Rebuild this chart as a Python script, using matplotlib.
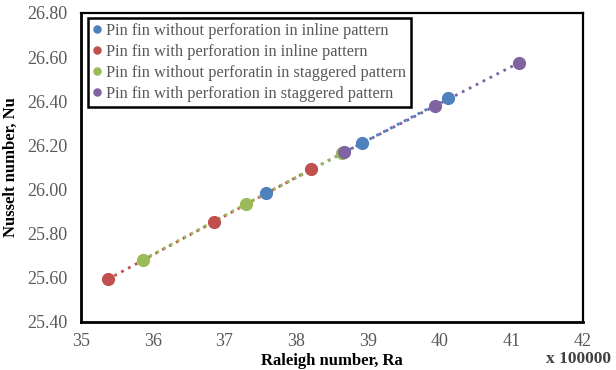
"""Nusselt vs Raleigh number for pin fin arrangements."""

import matplotlib.pyplot as plt

plt.rcParams["font.family"] = ["Liberation Serif", "DejaVu Serif"]

LABELS = [
    "Pin fin without perforation in inline pattern",
    "Pin fin with perforation in inline pattern",
    "Pin fin without perforatin in staggered pattern",
    "Pin fin with perforation in staggered pattern",
]
COLORS = ["#4F81BD", "#C0504D", "#9BBB59", "#8064A2"]

# Raleigh number (x 100000) and Nusselt number per series
ra_inline = [37.58, 38.92, 40.12]
nu_inline = [25.983, 26.211, 26.414]
ra_inline_perf = [35.37, 36.86, 38.21]
nu_inline_perf = [25.593, 25.855, 26.092]
ra_stag = [35.86, 37.30, 38.64]
nu_stag = [25.681, 25.935, 26.165]
ra_stag_perf = [38.67, 39.94, 41.11]
nu_stag_perf = [26.169, 26.379, 26.575]

SERIES = [
    (ra_inline, nu_inline),
    (ra_inline_perf, nu_inline_perf),
    (ra_stag, nu_stag),
    (ra_stag_perf, nu_stag_perf),
]

X_TICKS = [35, 36, 37, 38, 39, 40, 41, 42]
Y_TICKS = [25.40, 25.60, 25.80, 26.00, 26.20, 26.40, 26.60, 26.80]

fig = plt.figure(figsize=(6.16, 3.70), dpi=100)
ax = fig.add_axes([81 / 616, 1 - 322 / 370, 502 / 616, 309 / 370])

# dotted trend lines first, markers on top
for (x, y), c in zip(SERIES, COLORS):
    ax.plot(x, y, linestyle=(0, (1, 1.8)), color=c, linewidth=2.0, zorder=2)
for (x, y), c, lab in zip(SERIES, COLORS, LABELS):
    ax.plot(x, y, linestyle="none", marker="o", markersize=8.5, color=c,
            label=lab, zorder=3)

ax.set_xlim(35, 42)
ax.set_ylim(25.40, 26.80)
ax.set_xticks(X_TICKS)
ax.set_yticks(Y_TICKS)
ax.set_yticklabels([f"{v:.2f}" for v in Y_TICKS])
ax.tick_params(length=0, labelsize=13, colors="#595959")
ax.tick_params(axis="y", pad=10)
ax.tick_params(axis="x", pad=8)

for side in ["left", "bottom"]:
    ax.spines[side].set_linewidth(2.0)
for side in ["top", "right"]:
    ax.spines[side].set_linewidth(1.6)
for sp in ax.spines.values():
    sp.set_color("black")

ax.set_xlabel("Raleigh number, Ra", fontsize=12, fontweight="bold", labelpad=2)
ax.set_ylabel("Nusselt number, Nu", fontsize=12, fontweight="bold", labelpad=6)
fig.text(579 / 616, 1 - 359 / 370, "x 100000", fontsize=12.5, fontweight="bold",
         color="#404040", ha="center", va="center")

leg = ax.legend(loc="upper left", bbox_to_anchor=(0.014, 0.984), fontsize=11.8,
                handlelength=0.5, handletextpad=0.3, markerscale=0.6,
                borderpad=0.3, labelspacing=0.3, fancybox=False,
                framealpha=1, borderaxespad=0)
leg.get_frame().set_edgecolor("black")
leg.get_frame().set_linewidth(1.8)
for t in leg.get_texts():
    t.set_color("#595959")

fig.savefig("out.png", dpi=100)
